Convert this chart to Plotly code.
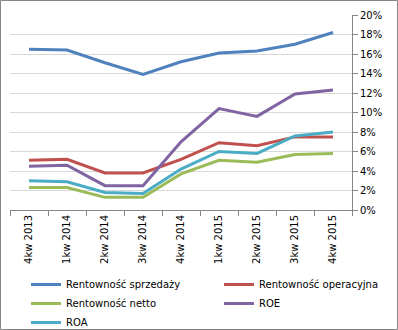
import plotly.graph_objects as go

categories = ["4kw 2013", "1kw 2014", "2kw 2014", "3kw 2014", "4kw 2014",
              "1kw 2015", "2kw 2015", "3kw 2015", "4kw 2015"]
rent_sprzedazy = [0.165, 0.164, 0.151, 0.139, 0.152, 0.161, 0.163, 0.170, 0.182]
rent_operacyjna = [0.051, 0.052, 0.038, 0.038, 0.052, 0.069, 0.066, 0.075, 0.075]
rent_netto = [0.023, 0.023, 0.013, 0.013, 0.037, 0.051, 0.049, 0.057, 0.058]
roe = [0.045, 0.046, 0.025, 0.025, 0.070, 0.104, 0.096, 0.119, 0.123]
roa = [0.030, 0.029, 0.018, 0.017, 0.042, 0.060, 0.058, 0.076, 0.080]
y_ticks = [0, 0.02, 0.04, 0.06, 0.08, 0.10, 0.12, 0.14, 0.16, 0.18, 0.20]

series = [
    ("Rentowność sprzedaży", rent_sprzedazy, "#4F81BD", "legend"),
    ("Rentowność operacyjna", rent_operacyjna, "#C0504D", "legend2"),
    ("Rentowność netto", rent_netto, "#9BBB59", "legend"),
    ("ROE", roe, "#8064A2", "legend2"),
    ("ROA", roa, "#4BACC6", "legend"),
]

W, H = 398, 330
L, R, T, B = 10, 46, 15, 120
pw, ph = W - L - R, H - T - B


def px_x(x):
    return (x - L) / pw


def px_y(y):
    return (T + ph - y) / ph


fig = go.Figure()
for name, vals, col, lg in series:
    fig.add_trace(go.Scatter(x=categories, y=vals, name=name, mode="lines",
                             legend=lg, line=dict(color=col, width=3)))

font = dict(family="DejaVu Sans", size=10, color="#000000")
legend_common = dict(orientation="v", yanchor="top", xanchor="left",
                     xref="container", yref="container",
                     font=font, tracegroupgap=0, itemwidth=30,
                     bgcolor="rgba(0,0,0,0)")
fig.update_layout(
    width=W, height=H,
    margin=dict(l=L, r=R, t=T, b=B, autoexpand=False),
    paper_bgcolor="white", plot_bgcolor="white",
    font=font,
    showlegend=True,
    legend=dict(x=26 / W, y=1 - 270 / H, **legend_common),
    legend2=dict(x=219 / W, y=1 - 270 / H, **legend_common),
    xaxis=dict(type="category", tickangle=-90, ticks="outside", ticklen=5,
               tickcolor="#868686", showline=True, linecolor="#868686",
               tickson="boundaries", showgrid=False, tickfont=font,
               automargin=False, range=[-0.5, len(categories) - 0.5]),
    yaxis=dict(side="right", range=[0, 0.2], tickvals=y_ticks, tickformat=".0%",
               showgrid=True, gridcolor="#D9D9D9", gridwidth=1,
               showline=True, linecolor="#868686", ticks="outside", ticklen=5,
               tickcolor="#868686", tickfont=font, zeroline=False,
               automargin=False),
)

fig.add_shape(type="rect", xref="paper", yref="paper",
              x0=px_x(0.5), x1=px_x(W - 0.5),
              y0=px_y(H - 0.5), y1=px_y(0.5),
              line=dict(color="#868686", width=1), layer="below")

fig.write_html("out.html")
